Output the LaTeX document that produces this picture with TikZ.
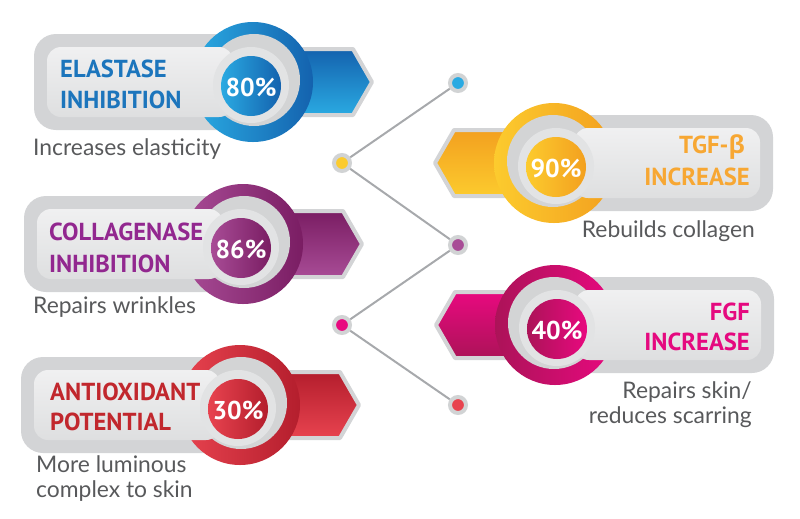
\documentclass[tikz,border=0pt]{standalone}
\usepackage{fontspec}
\setmainfont{PT Sans}
\newfontfamily\capfont{Lato}
\newfontfamily\grkfont{Open Sans}
\usetikzlibrary{positioning}

\definecolor{barout}{HTML}{D3D4D6}
\definecolor{barhi}{HTML}{F0F0F1}
\definecolor{barlo}{HTML}{DEDFE0}
\definecolor{diskgray}{HTML}{D3D4D5}
\definecolor{halogray}{HTML}{E2E3E4}
\definecolor{capgray}{HTML}{58595B}
\definecolor{dotring}{HTML}{D1D3D4}
\definecolor{linkgray}{HTML}{A7A9AC}
\definecolor{blueA}{HTML}{2AAAE2}
\definecolor{blueB}{HTML}{1462AE}
\definecolor{blueT}{HTML}{1C75BC}
\definecolor{purA}{HTML}{A84C96}
\definecolor{purB}{HTML}{7A1D63}
\definecolor{purT}{HTML}{92278F}
\definecolor{redA}{HTML}{E8434F}
\definecolor{redB}{HTML}{B41E2D}
\definecolor{redT}{HTML}{C1272D}
\definecolor{yelA}{HTML}{FCCB2E}
\definecolor{yelB}{HTML}{F3A01F}
\definecolor{yelT}{HTML}{F7A733}
\definecolor{magA}{HTML}{E8097F}
\definecolor{magB}{HTML}{AC1358}
\definecolor{magT}{HTML}{E5097F}

\begin{document}
\begin{tikzpicture}[x=0.03cm, y=-0.03cm,
  outerbar/.style={fill=barout, rounded corners=0.66cm},
  innerbar/.style={top color=barhi, bottom color=barlo, rounded corners=0.42cm},
  arrowbar/.style={draw=barout, line width=0.12cm, line join=round},
  graydisk/.style={fill=diskgray},
  halo/.style={fill=halogray},
  pct/.style={text=white, inner sep=0, font=\bfseries\fontsize{22}{22}\selectfont},
  title/.style={inner sep=0, font=\bfseries\fontsize{21}{21}\selectfont},
  caption/.style={inner sep=0, text=capgray, font=\capfont\fontsize{19.5}{19.5}\selectfont},
  dotnode/.style={circle, draw=dotring, line width=0.12cm, minimum size=0.48cm, inner sep=0},
  link/.style={draw=linkgray, line width=0.06cm}]
\useasboundingbox (0,0) rectangle (800,518);

% badges
\foreach \i/\cx/\cy/\s/\ca/\cb/\p in {1/253/82/1/blueA/blueB/80\%,
    2/243/244/1/purA/purB/86\%, 3/240/405/1/redA/redB/30\%,
    4/554/163/-1/yelA/yelB/90\%, 5/555/325/-1/magB/magA/40\%}{
  \begin{scope}[shift={(\cx,\cy)}, xscale=\s]
    \fill[outerbar] (-219,-48) rectangle (0,48);
    \draw[arrowbar, top color=\cb, bottom color=\ca] (20,-33) -- (100,-33) -- (119,0) -- (100,33) -- (20,33) -- cycle;
    \shade[left color=\ca, right color=\cb] (0,0) circle (60);
    \fill[graydisk] (1,-2) circle (46);
    \shade[innerbar] (-206,-35) rectangle (-20,35);
    \fill[halo] (-2,3) circle (38);
    \shade[left color=\ca, right color=\cb] (-2,4) circle (30);
    \node[pct] (pct\i) at (-2,5) {\p};
  \end{scope}
}

% titles
\node[title, text=blueT, anchor=base west] (t1a) at (60,77) {ELASTASE};
\node[title, text=blueT, anchor=base west] (t1b) at (60,108) {INHIBITION};
\node[title, text=purT, anchor=base west] (t2a) at (49,240) {COLLAGENASE};
\node[title, text=purT, anchor=base west] (t2b) at (49,272) {INHIBITION};
\node[title, text=redT, anchor=base west] (t3a) at (50,400) {ANTIOXIDANT};
\node[title, text=redT, anchor=base west] (t3b) at (50,430) {POTENTIAL};
\node[title, text=yelT, anchor=base east] (t4a) at (745,153) {TGF-{\grkfont β}};
\node[title, text=yelT, anchor=base east] (t4b) at (750,185) {INCREASE};
\node[title, text=magT, anchor=base east] (t5a) at (750,320) {FGF};
\node[title, text=magT, anchor=base east] (t5b) at (750,350) {INCREASE};

% captions
\node[caption, anchor=base west] (c1) at (33,155) {Increases elasticity};
\node[caption, anchor=base west] (c2) at (33,313) {Repairs wrinkles};
\node[caption, anchor=base west] (c3a) at (36,472) {More luminous};
\node[caption, anchor=base west] (c3b) at (36,497) {complex to skin};
\node[caption, anchor=base east] (c4) at (755,237) {Rebuilds collagen};
\node[caption, anchor=base east] (c5a) at (752,398) {Repairs skin/};
\node[caption, anchor=base east] (c5b) at (752,423) {reduces scarring};

% connector dots
\node[dotnode, fill=blueA] (d1) at (458,83) {};
\node[dotnode, fill=yelA] (d2) at (342,163) {};
\node[dotnode, fill=purA] (d3) at (458,245) {};
\node[dotnode, fill=magA] (d4) at (342,325) {};
\node[dotnode, fill=redA] (d5) at (458,405) {};
\draw[link] (d2) -- (d1);
\draw[link] (d2) -- (d3);
\draw[link] (d4) -- (d3);
\draw[link] (d4) -- (d5);
\end{tikzpicture}
\end{document}
